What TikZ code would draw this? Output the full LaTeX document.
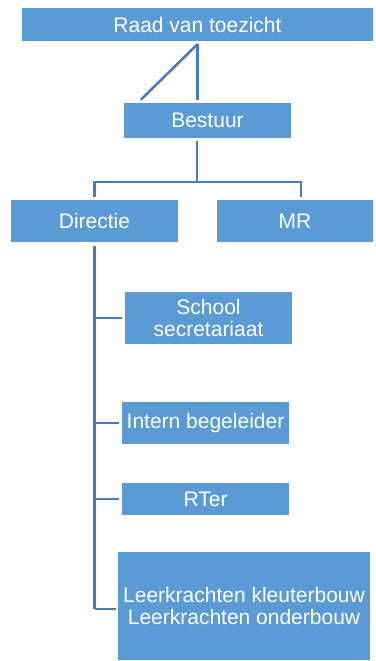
\documentclass[tikz,border=0pt]{standalone}
\usepackage{fontspec}
\setmainfont{Liberation Sans}
\usetikzlibrary{calc}
\usetikzlibrary{positioning}
\definecolor{boxblue}	{RGB}{91,155,213}
\definecolor{lineblue}	{RGB}{72,124,186}
\tikzstyle{box}=	[rectangle, fill=boxblue, text=white, inner sep=0pt, align=center, font=\fontsize{21}{22}\selectfont]
\tikzstyle{link}=	[line width=2.6pt, draw=lineblue]

\begin{document}
\begin{tikzpicture}[x=1pt, y=-1pt]

	\useasboundingbox (0,0) rectangle (375,661);

	%%% top
	% nodes
	\node[box, minimum width=351pt, minimum height=33pt] (raad) at (197.5,24.5) {Raad van toezicht};
	\node[box, minimum width=167pt, minimum height=35pt] (bestuur) at (207.5,120.5) {Bestuur};

	% lines
	\draw[link] ([yshift=-3pt]raad.south) -- ([yshift=3pt]raad.south |- bestuur.north);
	\draw[link] ([yshift=-3pt]raad.south) -- ([xshift=17pt, yshift=3pt]bestuur.north west);

	%%% second level
	% nodes
	\node[box, minimum width=167pt, minimum height=42pt] (directie) at (94.5,221) {Directie};
	\node[box, minimum width=156pt, minimum height=42pt] (mr) at (295,221) {MR};

	% lines
	\coordinate (fork) at (197,182);
	\draw[link] ([yshift=-3pt]bestuur.south -| fork) -- (fork);
	\draw[link] ([yshift=3pt]directie.north) |- (fork) -| ([xshift=6pt, yshift=3pt]mr.north);

	%%% staff under directie
	% nodes
	\node[box, minimum width=167pt, minimum height=52pt] (school) at (208.5,318) {School\\secretariaat};
	\node[box, minimum width=167pt, minimum height=42pt] (intern) at (205.5,423) {Intern begeleider};
	\node[box, minimum width=167pt, minimum height=32pt] (rter) at (205.5,499) {RTer};
	\node[box, minimum width=252pt, minimum height=108pt] (leer) at (244,606) {Leerkrachten kleuterbouw\\Leerkrachten onderbouw};

	% lines
	\coordinate (spine) at ([yshift=-4pt]directie.south);
	\draw[link] (spine) -- (spine |- 0,609);
	\draw[link] (spine |- school.west) -- ([xshift=-3pt]school.west);
	\draw[link] (spine |- intern.west) -- ([xshift=-3pt]intern.west);
	\draw[link] (spine |- rter.west) -- ([xshift=-3pt]rter.west);
	\draw[link] (spine |- 0,609) -- ([xshift=-2pt]leer.west |- 0,609);

\end{tikzpicture}
\end{document}
